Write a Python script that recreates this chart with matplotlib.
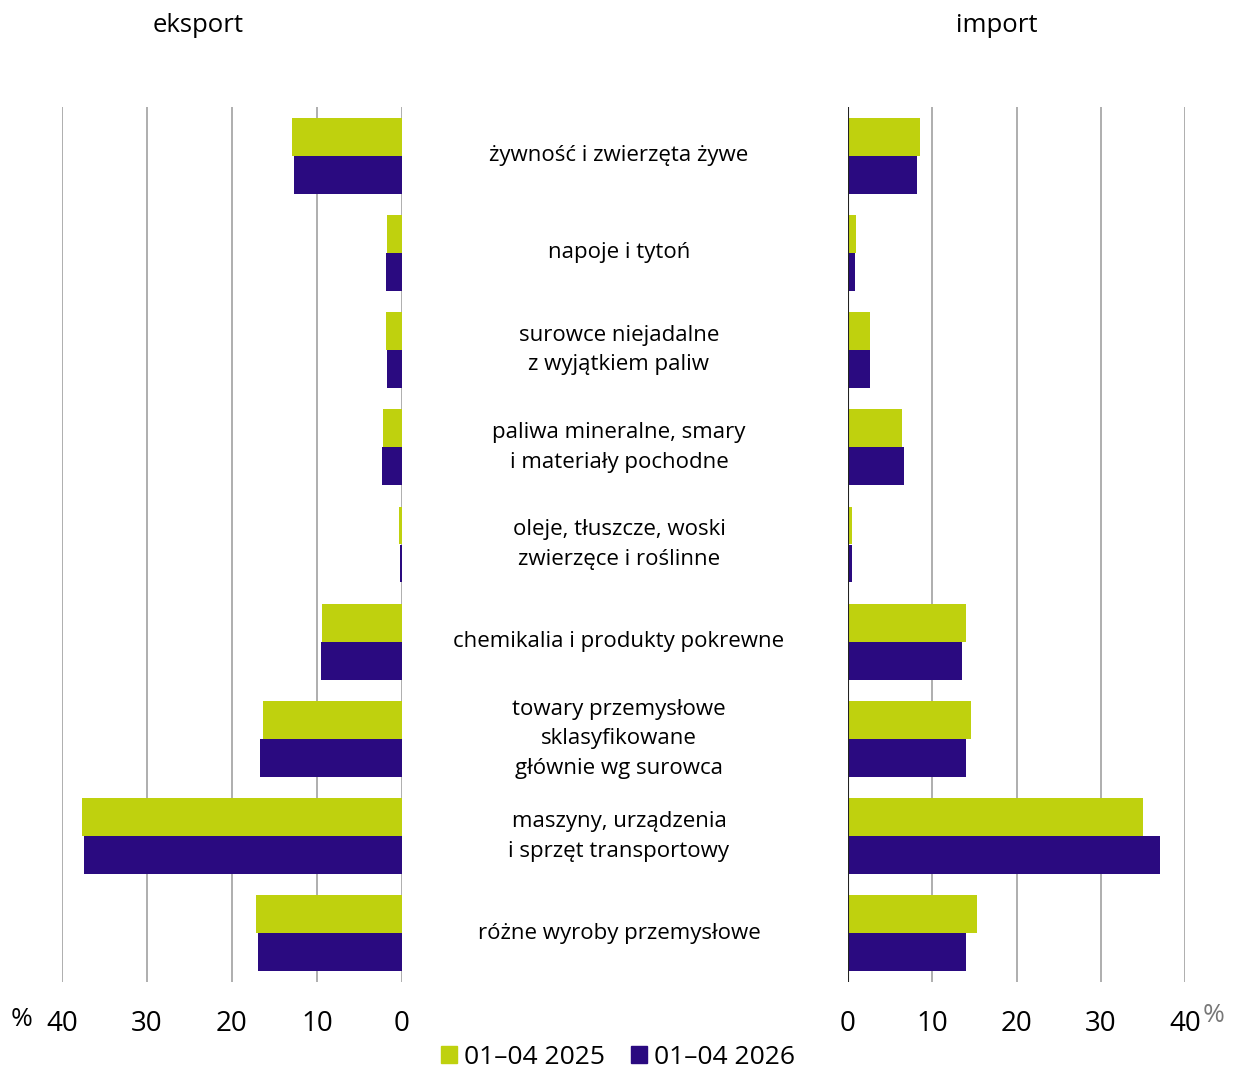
import numpy as np
import matplotlib
matplotlib.use("Agg")
from matplotlib import pyplot as plt
from matplotlib.patches import Patch

plt.rcParams['font.family'] = ['Open Sans', 'DejaVu Sans']

categories = [
    'żywność i zwierzęta żywe',
    'napoje i tytoń',
    'surowce niejadalne\nz wyjątkiem paliw',
    'paliwa mineralne, smary\ni materiały pochodne',
    'oleje, tłuszcze, woski\nzwierzęce i roślinne',
    'chemikalia i produkty pokrewne',
    'towary przemysłowe\nsklasyfikowane\ngłównie wg surowca',
    'maszyny, urządzenia\ni sprzęt transportowy',
    'różne wyroby przemysłowe',
]
export_2025 = [12.9, 1.8, 1.9, 2.2, 0.3, 9.4, 16.3, 37.7, 17.2]
export_2026 = [12.7, 1.9, 1.8, 2.4, 0.2, 9.5, 16.7, 37.4, 16.9]
import_2025 = [8.5, 0.9, 2.6, 6.4, 0.5, 14.0, 14.6, 35.0, 15.3]
import_2026 = [8.2, 0.8, 2.6, 6.7, 0.5, 13.5, 14.0, 37.0, 14.0]
series_labels = ['01\u201304 2025', '01\u201304 2026']
ticks = [0, 10, 20, 30, 40]

lime = '#BFD10E'
purple = '#2A0A80'
grid_c = '#A8A8A8'

W, H = 1235, 1071
fig = plt.figure(figsize=(W / 100, H / 100), dpi=100)

top = 1 - 107 / H
bottom = 1 - 982 / H
ax_l = fig.add_axes([62 / W, bottom, (402 - 62) / W, top - bottom])
ax_r = fig.add_axes([848 / W, bottom, (1185 - 848) / W, top - bottom])

y = np.arange(len(categories))
h = 0.39

for ax, a, b in ((ax_l, export_2025, export_2026), (ax_r, import_2025, import_2026)):
    ax.barh(y - h / 2, a, height=h, color=lime, zorder=3)
    ax.barh(y + h / 2, b, height=h, color=purple, zorder=3)
    ax.set_xlim(0, 40)
    ax.set_ylim(len(categories) - 0.5, -0.5)
    ax.set_xticks(ticks)
    ax.set_yticks([])
    for s in ax.spines.values():
        s.set_visible(False)
    for t in ticks:
        ax.axvline(t, color=grid_c, lw=1.3, zorder=1)
    ax.tick_params(axis='x', length=0, pad=20, labelsize=20)

ax_l.invert_xaxis()
ax_r.axvline(0, color='#222222', lw=1.5, zorder=4)

# category labels in the middle
xc = 619 / W
for i, c in enumerate(categories):
    yf = bottom + (top - bottom) * (1 - (i + 0.5) / len(categories))
    fig.text(xc, yf, c, ha='center', va='center', fontsize=16, linespacing=1.55)

fig.text(198 / W, 1 - 26 / H, 'eksport', ha='center', va='center', fontsize=18.5)
fig.text(997 / W, 1 - 26 / H, 'import', ha='center', va='center', fontsize=18.5)
fig.text(22 / W, 1 - 1020 / H, '%', ha='center', va='center', fontsize=19)
fig.text(1214 / W, 1 - 1015 / H, '%', ha='center', va='center', fontsize=19, color='#777777')

handles = [Patch(color=lime), Patch(color=purple)]
fig.legend(handles, series_labels, loc='center', bbox_to_anchor=(618 / W, 1 - 1057 / H),
           ncol=2, frameon=False, fontsize=19, handlelength=0.6, handleheight=0.6,
           handletextpad=0.25, columnspacing=1.0)

fig.savefig('out.png', dpi=100)
